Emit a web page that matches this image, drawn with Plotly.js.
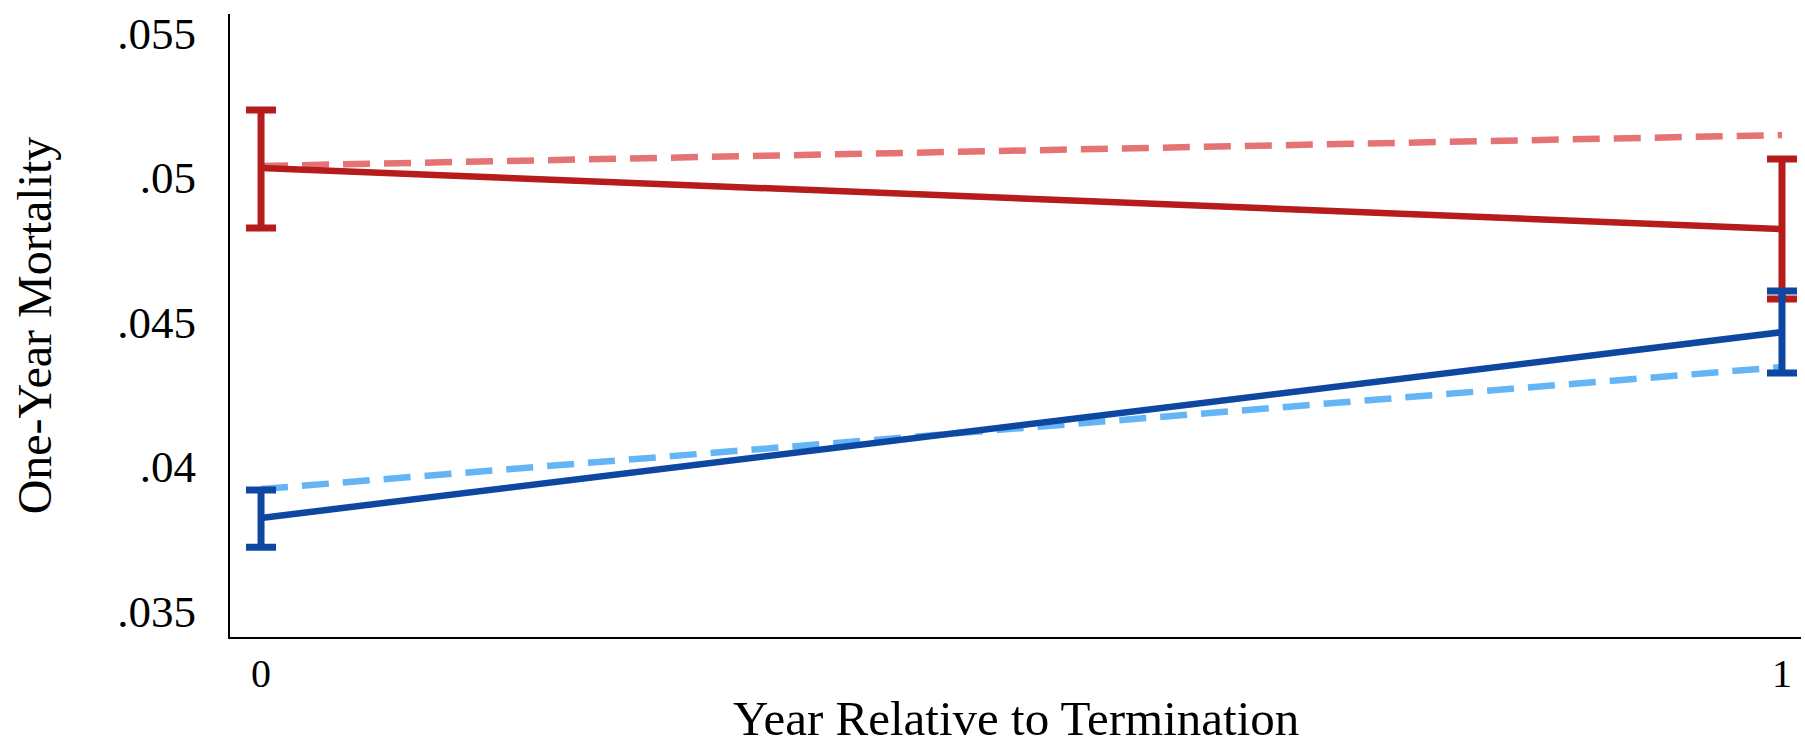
<!DOCTYPE html>
<html>
<head>
<meta charset="utf-8">
<script src="https://cdn.plot.ly/plotly-3.0.1.min.js"></script>
<style>html,body{margin:0;padding:0;background:#fff;}#chart{width:1805px;height:736px;}</style>
</head>
<body>
<div id="chart"></div>
<script>
// Data
const years = [0, 1];
const redMean = [0.05033, 0.04822];
const redUpper = [0.05234, 0.05064];
const redLower = [0.04825, 0.04580];
const redCounterfactual = [0.05040, 0.05147];
const blueMean = [0.03822, 0.04465];
const blueUpper = [0.03919, 0.04607];
const blueLower = [0.03721, 0.04324];
const blueCounterfactual = [0.03922, 0.04344];
const yTickVals = [0.035, 0.04, 0.045, 0.05, 0.055];
const yTickText = ['.035', '.04', '.045', '.05', '.055'];
const xTickVals = [0, 1];
const xTickText = ['0', '1'];
const xTitle = 'Year Relative to Termination';
const yTitle = 'One-Year Mortality';

const diff = (a, b) => a.map((v, i) => v - b[i]);

const traces = [
  {x: years, y: redCounterfactual, mode: 'lines', line: {color: '#E57373', width: 6.5, dash: '27px,14px'}},
  {x: years, y: blueCounterfactual, mode: 'lines', line: {color: '#64B5F6', width: 6.5, dash: '27px,14px'}},
  {x: years, y: redMean, mode: 'lines', line: {color: '#B71C1C', width: 6.5},
   error_y: {type: 'data', symmetric: false, array: diff(redUpper, redMean), arrayminus: diff(redMean, redLower), color: '#B71C1C', thickness: 7, width: 15}},
  {x: years, y: blueMean, mode: 'lines', line: {color: '#0D47A1', width: 6.5},
   error_y: {type: 'data', symmetric: false, array: diff(blueUpper, blueMean), arrayminus: diff(blueMean, blueLower), color: '#0D47A1', thickness: 7, width: 15}}
];

const layout = {
  width: 1805, height: 736,
  margin: {l: 230, r: 4, t: 14, b: 99},
  paper_bgcolor: '#fff', plot_bgcolor: '#fff',
  showlegend: false,
  font: {family: '"Liberation Serif", "Times New Roman", serif', color: '#000'},
  xaxis: {
    range: [-0.0204, 1.0125], tickvals: xTickVals, ticktext: xTickText,
    showgrid: false, zeroline: false, showline: true, linecolor: '#000', linewidth: 2,
    ticks: '', tickfont: {size: 40, family: '"Liberation Serif", serif'}, ticklabelstandoff: 0
  },
  yaxis: {
    range: [0.0341, 0.05566], tickvals: yTickVals, ticktext: yTickText,
    showgrid: false, zeroline: false, showline: true, linecolor: '#000', linewidth: 2,
    ticks: '', tickfont: {size: 45}, ticklabelstandoff: 23,
    title: {text: yTitle, font: {size: 48}, standoff: 50}
  },
  annotations: [
    {text: xTitle, xref: 'paper', yref: 'paper', x: 0.5, y: 0, yanchor: 'bottom', yshift: -111,
     showarrow: false, font: {size: 49}}
  ]
};

Plotly.newPlot('chart', traces, layout, {displayModeBar: false, staticPlot: true});
</script>
</body>
</html>
